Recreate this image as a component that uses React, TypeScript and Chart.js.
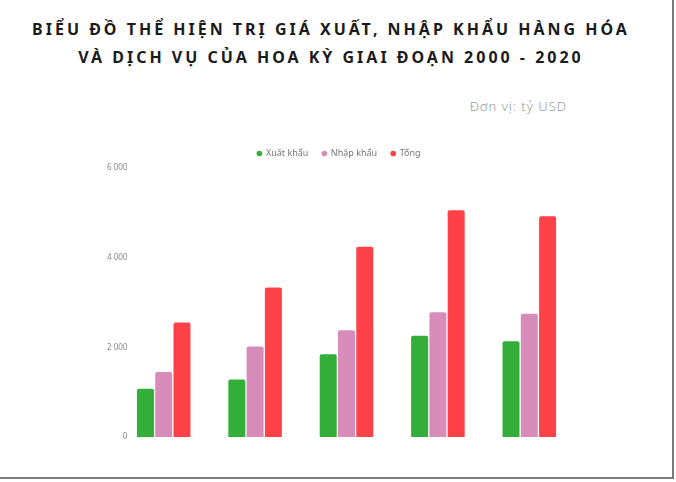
import React, { useEffect, useRef } from "react";
import { Chart, registerables } from "chart.js";

Chart.register(...registerables);

const categories = ["2000", "2005", "2010", "2015", "2020"];
const exportsValues = [1075, 1285, 1845, 2260, 2135];
const importsValues = [1450, 2020, 2380, 2780, 2750];
const totalValues = [2555, 3335, 4245, 5060, 4925];
const yTicks = [0, 2000, 4000, 6000];
const seriesNames = ["Xuất khẩu", "Nhập khẩu", "Tổng"];
const titleLines = [
  "BIỂU ĐỒ THỂ HIỆN TRỊ GIÁ XUẤT, NHẬP KHẨU HÀNG HÓA",
  "VÀ DỊCH VỤ CỦA HOA KỲ GIAI ĐOẠN 2000 - 2020",
];
const unitLabel = "Đơn vị: tỷ USD";

const fmt = (v: number) => {
  const s = String(Math.round(v));
  return s.replace(/\B(?=(\d{3})+(?!\d))/g, " ");
};

export default function App() {
  const ref = useRef<HTMLCanvasElement | null>(null);

  useEffect(() => {
    if (!ref.current) return;
    const chart = new Chart(ref.current, {
      type: "bar",
      data: {
        labels: categories,
        datasets: [
          {
            label: seriesNames[0],
            data: exportsValues,
            backgroundColor: "#33AE38",
            borderRadius: 2,
            categoryPercentage: 0.6,
            barPercentage: 0.93,
          },
          {
            label: seriesNames[1],
            data: importsValues,
            backgroundColor: "#D78CBA",
            borderRadius: 2,
            categoryPercentage: 0.6,
            barPercentage: 0.93,
          },
          {
            label: seriesNames[2],
            data: totalValues,
            backgroundColor: "#FF4247",
            borderRadius: 2,
            categoryPercentage: 0.6,
            barPercentage: 0.93,
          },
        ],
      },
      options: {
        animation: false,
        responsive: false,
        maintainAspectRatio: false,
        layout: { padding: { top: 135, left: 103, right: 97, bottom: 40 } },
        plugins: {
          title: { display: false },
          tooltip: { enabled: false },
          legend: {
            display: true,
            position: "top",
            align: "center",
            labels: {
              usePointStyle: true,
              pointStyle: "circle",
              boxWidth: 4,
              boxHeight: 4,
              padding: 14,
              color: "#777",
              font: { family: "Noto Sans", size: 9 },
            },
          },
        },
        scales: {
          x: {
            display: false,
          },
          y: {
            min: yTicks[0],
            max: yTicks[yTicks.length - 1],
            afterFit: (axis: any) => {
              axis.width = 15;
            },
            afterBuildTicks: (axis: any) => {
              axis.ticks = yTicks.map((v) => ({ value: v }));
            },
            grid: { display: false, drawTicks: false },
            border: { display: false },
            ticks: {
              mirror: true,
              crossAlign: "far",
              padding: -11,
              color: "#888",
              font: { family: "Noto Sans", size: 8 },
              callback: (v: any) => fmt(Number(v)),
            },
          },
        },
      },
    });
    return () => chart.destroy();
  }, []);

  return (
    <div
      style={{
        position: "fixed",
        left: 0,
        top: 0,
        width: 672,
        height: 477,
        background: "#fff",
        borderRight: "2px solid #7b7b7b",
        borderBottom: "2px solid #7b7b7b",
        overflow: "hidden",
      }}
    >
      <div
        style={{
          position: "absolute",
          left: 0,
          top: 15,
          width: 662,
          textAlign: "center",
          fontFamily: "'Noto Sans', sans-serif",
          fontWeight: 700,
          fontSize: 16,
          letterSpacing: 3,
          lineHeight: "28px",
          color: "#1b1b1b",
          whiteSpace: "nowrap",
        }}
      >
        {titleLines.map((l, i) => (
          <div key={i}>{l}</div>
        ))}
      </div>
      <div
        style={{
          position: "absolute",
          right: 105,
          top: 99,
          fontFamily: "'Noto Sans', sans-serif",
          fontWeight: 300,
          fontSize: 13,
          letterSpacing: 1,
          lineHeight: "14px",
          color: "#999",
          whiteSpace: "nowrap",
        }}
      >
        {unitLabel}
      </div>
      <canvas
        ref={ref}
        width={672}
        height={477}
        style={{ position: "absolute", left: 0, top: 0, width: 672, height: 477 }}
      />
    </div>
  );
}
